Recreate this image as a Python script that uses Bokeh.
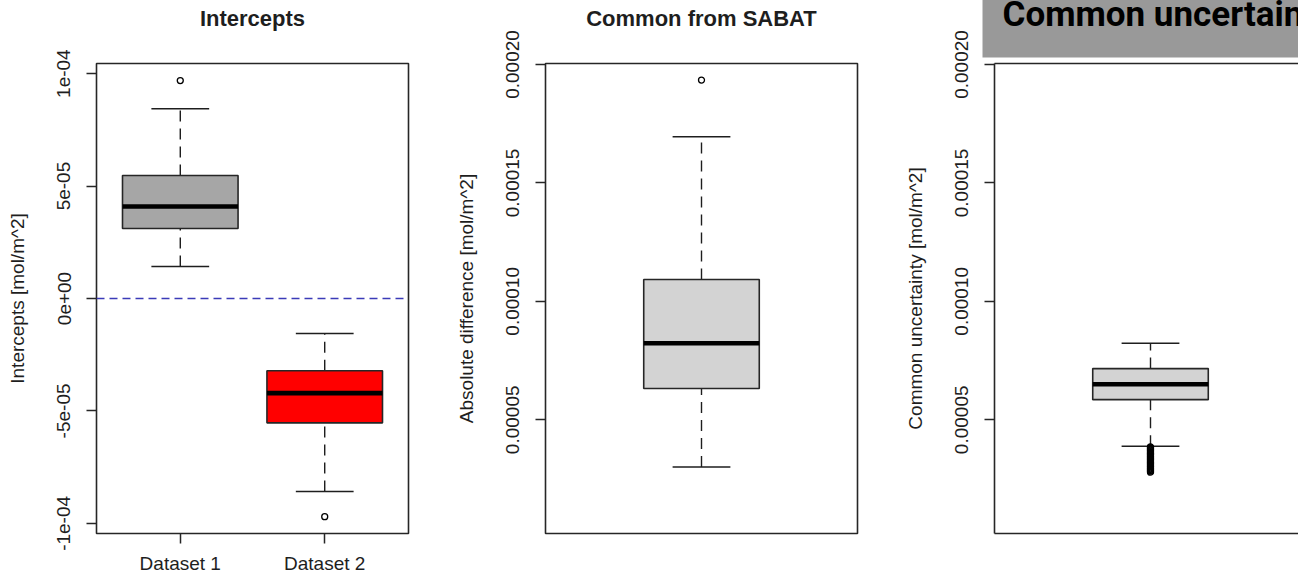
from bokeh.plotting import figure
from bokeh.models import Range1d, FixedTicker, LinearAxis, Span, Title
from bokeh.layouts import row
from bokeh.embed import file_html
from bokeh.resources import INLINE

# ---------------- data ----------------
# Panel 1: intercepts of the two datasets
INT_NAMES = ["Dataset 1", "Dataset 2"]
INT_POS = [1, 2]
INT_LOW = [1.42e-5, -8.58e-5]
INT_Q1 = [3.11e-5, -5.53e-5]
INT_MED = [4.09e-5, -4.21e-5]
INT_Q3 = [5.47e-5, -3.21e-5]
INT_HIGH = [8.44e-5, -1.56e-5]
INT_OUT_POS = [1, 2]
INT_OUT = [9.69e-5, -9.70e-5]
INT_TICKS = [-1e-4, -5e-5, 0.0, 5e-5, 1e-4]
INT_TICK_LABELS = ["-1e-04", "-5e-05", "0e+00", "5e-05", "1e-04"]
ZERO_LINE = 0.0

# Panel 2: absolute difference, common from SABAT
SAB_POS = [1]
SAB_LOW = [3.01e-5]
SAB_Q1 = [6.32e-5]
SAB_MED = [8.23e-5]
SAB_Q3 = [1.092e-4]
SAB_HIGH = [1.695e-4]
SAB_OUT = [1.934e-4]

# Panel 3: common uncertainty
UNC_POS = [1]
UNC_LOW = [3.88e-5]
UNC_Q1 = [5.85e-5]
UNC_MED = [6.50e-5]
UNC_Q3 = [7.16e-5]
UNC_HIGH = [8.23e-5]
UNC_OUT = [3.86e-5, 3.83e-5, 3.79e-5, 3.76e-5, 3.72e-5, 3.69e-5, 3.65e-5,
           3.61e-5, 3.58e-5, 3.55e-5, 3.51e-5, 3.47e-5, 3.44e-5, 3.40e-5,
           3.37e-5, 3.33e-5, 3.30e-5, 3.26e-5, 3.22e-5, 3.19e-5, 3.15e-5,
           3.12e-5, 3.08e-5, 3.04e-5, 3.01e-5, 2.97e-5, 2.93e-5, 2.90e-5,
           2.86e-5, 2.83e-5, 2.79e-5]

ABS_TICKS = [5e-5, 1e-4, 1.5e-4, 2e-4]
ABS_TICK_LABELS = ["0.00005", "0.00010", "0.00015", "0.00020"]

# ---------------- styling ----------------
FONT = "Liberation Sans"
INK = "#1e1e1e"
FRAME = "#262626"
SHIFT = 15          # the banner title of panel 3 runs past the top edge
H = 577 + SHIFT
TOP = 63 + SHIFT


def base_fig(width, xr, yr, title, border_right=41, outline=True):
    p = figure(width=width, height=H, x_range=Range1d(*xr), y_range=Range1d(*yr),
               x_axis_type=None, y_axis_type=None, output_backend="svg",
               toolbar_location=None, min_border_left=96, min_border_right=border_right,
               min_border_top=TOP, min_border_bottom=44,
               background_fill_color="white", border_fill_color="white")
    p.outline_line_color = FRAME if outline else None
    p.outline_line_width = 1.6
    if title:
        p.title.text = title
        p.title.align = "center"
        p.title.text_font = FONT
        p.title.text_font_style = "bold"
        p.title.text_font_size = "22px"
        p.title.text_color = INK
        p.title.standoff = 0
        p.title.padding = dict(left=0, right=0, top=0, bottom=33)
    return p


def y_axis(p, ticks, labels, name, line=False):
    ax = LinearAxis(ticker=FixedTicker(ticks=ticks, minor_ticks=[]),
                    major_label_overrides=dict(zip(ticks, labels)))
    ax.major_label_orientation = "vertical"
    ax.major_tick_out = 10
    ax.major_tick_in = 0
    ax.major_tick_line_color = FRAME
    ax.major_tick_line_width = 1.5
    ax.axis_line_color = FRAME if line else None
    ax.axis_line_width = 1.6
    ax.major_label_text_font = FONT
    ax.major_label_text_font_size = "19px"
    ax.major_label_text_color = INK
    ax.major_label_standoff = 16
    ax.axis_label = name
    ax.axis_label_text_font = FONT
    ax.axis_label_text_font_style = "normal"
    ax.axis_label_text_font_size = "19px"
    ax.axis_label_text_color = INK
    ax.axis_label_standoff = 27
    p.add_layout(ax, "left")


def plain_x_axis(p, side):
    ax = LinearAxis(ticker=FixedTicker(ticks=[], minor_ticks=[]))
    ax.axis_line_color = FRAME
    ax.axis_line_width = 1.6
    ax.major_tick_line_color = None
    ax.minor_tick_line_color = None
    ax.major_label_text_font_size = "0px"
    p.add_layout(ax, side)


def boxes(p, pos, low, q1, med, q3, high, out_pos, out, fill, box_w, cap_w):
    half_b = box_w / 2
    half_c = cap_w / 2
    # dashed whiskers
    p.segment(x0=pos, y0=q3, x1=pos, y1=high, line_color=INK, line_width=1.4,
              line_dash="11 7")
    p.segment(x0=pos, y0=low, x1=pos, y1=q1, line_color=INK, line_width=1.4,
              line_dash="11 7")
    # whisker caps
    p.segment(x0=[x - half_c for x in pos], y0=high, x1=[x + half_c for x in pos],
              y1=high, line_color=INK, line_width=1.5)
    p.segment(x0=[x - half_c for x in pos], y0=low, x1=[x + half_c for x in pos],
              y1=low, line_color=INK, line_width=1.5)
    # box
    p.quad(left=[x - half_b for x in pos], right=[x + half_b for x in pos],
           bottom=q1, top=q3, fill_color=fill, line_color=FRAME, line_width=1.6)
    # median
    p.segment(x0=[x - half_b for x in pos], y0=med, x1=[x + half_b for x in pos],
              y1=med, line_color="black", line_width=4.6)
    # outliers
    p.scatter(x=out_pos, y=out, marker="circle", size=6, fill_color=None,
              line_color="black", line_width=1.3)


# ---------------- panel 1: intercepts ----------------
p1 = base_fig(449, (0.42, 2.58), (-1.045e-4, 1.045e-4), "Intercepts")
y_axis(p1, INT_TICKS, INT_TICK_LABELS, "Intercepts [mol/m^2]")
xa = LinearAxis(ticker=FixedTicker(ticks=INT_POS, minor_ticks=[]),
                major_label_overrides=dict(zip(INT_POS, INT_NAMES)))
xa.axis_line_color = None
xa.major_tick_out = 10
xa.major_tick_in = 0
xa.major_tick_line_color = FRAME
xa.major_tick_line_width = 1.5
xa.major_label_text_font = FONT
xa.major_label_text_font_size = "19px"
xa.major_label_text_color = INK
xa.major_label_standoff = 9
p1.add_layout(xa, "below")
p1.add_layout(Span(location=ZERO_LINE, dimension="width", line_color="#3b3bb8",
                   line_width=1.6, line_dash="8 5"))
boxes(p1, INT_POS, INT_LOW, INT_Q1, INT_MED, INT_Q3, INT_HIGH,
      INT_OUT_POS, INT_OUT, ["#a6a6a6", "#ff0000"], 0.8, 0.4)

# ---------------- panel 2: common from SABAT ----------------
ABS_Y = (2.0e-6, 2.004e-4)
p2 = base_fig(449, (0.46, 1.54), ABS_Y, "Common from SABAT")
y_axis(p2, ABS_TICKS, ABS_TICK_LABELS, "Absolute difference [mol/m^2]")
boxes(p2, SAB_POS, SAB_LOW, SAB_Q1, SAB_MED, SAB_Q3, SAB_HIGH,
      SAB_POS * len(SAB_OUT), SAB_OUT, "#d3d3d3", 0.4, 0.2)

# ---------------- panel 3: common uncertainty ----------------
X3 = (0.46, 0.46 + 1.08 * 304 / 312)
p3 = base_fig(400, X3, ABS_Y, None, border_right=0, outline=False)
y_axis(p3, ABS_TICKS, ABS_TICK_LABELS, "Common uncertainty [mol/m^2]", line=True)
plain_x_axis(p3, "below")
plain_x_axis(p3, "above")
boxes(p3, UNC_POS, UNC_LOW, UNC_Q1, UNC_MED, UNC_Q3, UNC_HIGH,
      UNC_POS * len(UNC_OUT), UNC_OUT, "#d3d3d3", 0.4, 0.2)
p3.add_layout(Title(text="Common uncertainty", align="left", offset=-12,
                    text_font="Roboto", text_font_style="bold",
                    text_font_size="35px", text_color="black",
                    background_fill_color="#999999",
                    padding=dict(left=20, right=120, top=0, bottom=23),
                    standoff=12), "above")

layout = row(p1, p2, p3, margin=(-SHIFT, 0, 0, 0))
open("out.html", "w").write(file_html(layout, INLINE))
